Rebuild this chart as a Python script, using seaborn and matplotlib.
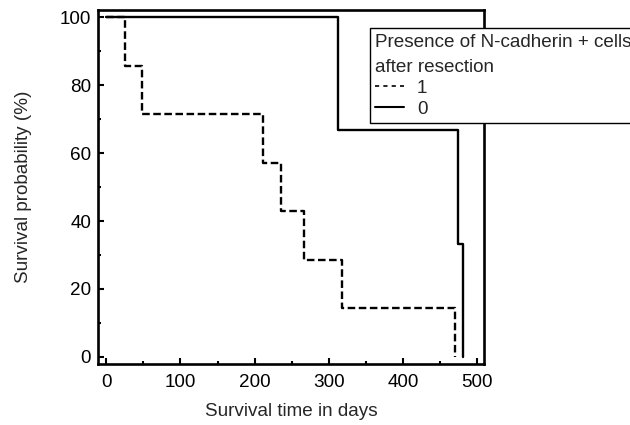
import numpy as np
import pandas as pd
import matplotlib
matplotlib.use('Agg')
import matplotlib.pyplot as plt
from matplotlib.ticker import MultipleLocator
import seaborn as sns

## ============================================================

# step points of the Kaplan-Meier curves (days, survival %)
days_pos = [0, 25, 48, 211, 235, 266, 318, 470]
surv_pos = [100, 85.7, 71.4, 57.1, 42.9, 28.6, 14.3, 0]

days_neg = [0, 312, 474, 480]
surv_neg = [100, 66.7, 33.3, 0]

groups = ['1', '0']

FS = 13.6

## ============================================================

df = pd.concat([
	pd.DataFrame({'time': days_pos, 'surv': surv_pos, 'group': '1'}),
	pd.DataFrame({'time': days_neg, 'surv': surv_neg, 'group': '0'}),
], ignore_index=True)

sns.set_style('ticks')
plt.rcParams['font.family'] = ['Liberation Sans', 'DejaVu Sans']

fig = plt.figure(figsize=(6.3, 4.25), dpi=100)
ax = fig.add_axes([0.1556, 0.1435, 0.6127, 0.8318])

sns.lineplot(data=df, x='time', y='surv', hue='group', style='group',
		hue_order=groups, style_order=groups,
		palette={'1': 'black', '0': 'black'},
		dashes={'1': (3.2, 1.5), '0': ''},
		estimator=None, sort=False, drawstyle='steps-post',
		linewidth=1.7, legend=False, ax=ax)

ax.set_xlim(-11, 509)
ax.set_ylim(-2.1, 102)
ax.xaxis.set_major_locator(MultipleLocator(100))
ax.xaxis.set_minor_locator(MultipleLocator(50))
ax.yaxis.set_major_locator(MultipleLocator(20))
ax.yaxis.set_minor_locator(MultipleLocator(10))
ax.tick_params(which='both', direction='in', width=1.5, colors='black',
		top=False, right=False, labelsize=FS)
ax.tick_params(which='major', length=4.5)
ax.tick_params(which='minor', length=2.5)
ax.tick_params(axis='x', which='major', pad=7)
ax.tick_params(axis='y', which='major', pad=5)
for s in ax.spines.values():
	s.set_visible(True)
	s.set_linewidth(1.9)
	s.set_color('black')

ax.set_xlabel('Survival time in days', fontsize=FS, labelpad=9)
ax.set_ylabel('Survival probability (%)', fontsize=FS, labelpad=20)

h1 = plt.Line2D([], [], color='black', lw=1.2, dashes=(2.5, 2.5))
h0 = plt.Line2D([], [], color='black', lw=1.5)
leg = fig.legend([h1, h0], groups, title='Presence of N-cadherin + cells\nafter resection',
		loc='upper left', bbox_to_anchor=(0.587, 0.934), fontsize=FS, title_fontsize=FS,
		frameon=True, fancybox=False, shadow=False, edgecolor='black', framealpha=1,
		borderpad=0.3, handlelength=1.5, handletextpad=0.7, labelspacing=0.2,
		alignment='left', borderaxespad=0)
leg.get_frame().set_linewidth(1.0)
leg.get_title().set_linespacing(1.6)

fig.savefig('out.png', dpi=100)
